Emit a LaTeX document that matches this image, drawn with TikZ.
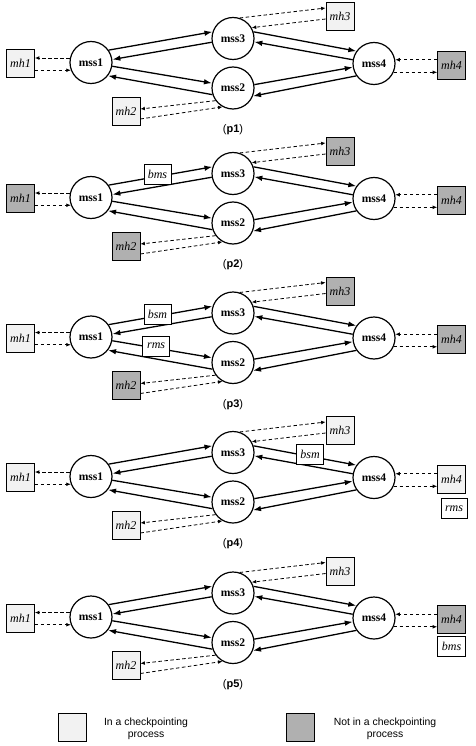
\documentclass[tikz,border=0pt]{standalone}
\usepackage{fontspec}
\setmainfont{Liberation Serif}
\setsansfont{Liberation Sans}
\usetikzlibrary{arrows.meta,positioning,calc}
\definecolor{lightbox}{HTML}{F2F2F2}
\definecolor{darkbox}{HTML}{B0B0B0}
\tikzset{
 mss/.style={circle,draw,line width=1.2pt,minimum size=42pt,inner sep=0pt,font=\fontsize{11.6}{12}\selectfont\bfseries},
 mhbox/.style={draw,line width=0.7pt,minimum size=28pt,inner sep=0pt,font=\fontsize{12}{12}\selectfont\itshape},
 msg/.style={draw,fill=white,line width=0.7pt,minimum width=27pt,minimum height=20pt,inner sep=0pt,font=\fontsize{12}{12}\selectfont\itshape},
 solidarr/.style={line width=1.3pt,-{Latex[length=8pt,width=5.5pt]}},
 dasharr/.style={dash pattern=on 3.5pt off 2.5pt,line width=0.8pt,-{Latex[length=4.5pt,width=3.8pt]}},
 captext/.style={font=\sffamily\fontsize{11}{13}\selectfont},
 legtext/.style={align=center,font=\sffamily\fontsize{10.4}{12}\selectfont}
}
\newcommand{\mypanel}[7]{%
\begin{scope}[yshift=-#2pt]
 \node[mss] (#1m1) at (91,62.5) {mss1};
 \node[mss] (#1m3) at (233,38.5) {mss3};
 \node[mss] (#1m2) at (233,88) {mss2};
 \node[mss] (#1m4) at (374,63.5) {mss4};
 \node[mhbox,fill=#3] (#1h1) at (20.5,63.5) {mh1};
 \node[mhbox,fill=#4] (#1h2) at (126,111) {mh2};
 \node[mhbox,fill=#5] (#1h3) at (340,16.5) {mh3};
 \node[mhbox,fill=#6] (#1h4) at (451.5,65) {mh4};
 \node[captext] (#1cap) at (233,130) {(\textbf{#7})};
 \draw[solidarr] (#1m1.35) -- (#1m3.162);
 \draw[solidarr] (#1m3.190) -- (#1m1.8);
 \draw[solidarr] (#1m1.-10) -- (#1m2.167);
 \draw[solidarr] (#1m2.198) -- (#1m1.-38);
 \draw[solidarr] (#1m3.18) -- (#1m4.145);
 \draw[solidarr] (#1m4.170) -- (#1m3.-9);
 \draw[solidarr] (#1m2.9) -- (#1m4.190);
 \draw[solidarr] (#1m4.215) -- (#1m2.-22);
 \draw[dasharr] (#1m1.168) -- (#1m1.168 -| #1h1.east);
 \draw[dasharr] (#1m1.201 -| #1h1.east) -- (#1m1.201);
 \draw[dasharr] (#1m2.216) -- ([yshift=2pt]#1h2.east);
 \draw[dasharr] ([yshift=-8pt]#1h2.east) -- (#1m2.241);
 \draw[dasharr] (#1m3.72) -- ([yshift=8.5pt]#1h3.west);
 \draw[dasharr] ([yshift=-2.5pt]#1h3.west) -- (#1m3.30);
 \draw[dasharr] (#1m4.10 -| #1h4.west) -- (#1m4.10);
 \draw[dasharr] (#1m4.-24) -- (#1m4.-24 -| #1h4.west);
\end{scope}}
\begin{document}
\begin{tikzpicture}[x=1pt,y=-1pt]
\useasboundingbox (0,0) rectangle (475,746);
\mypanel{a}{0}{lightbox}{lightbox}{lightbox}{darkbox}{p1}
\mypanel{b}{135}{darkbox}{darkbox}{darkbox}{darkbox}{p2}
\mypanel{c}{274.5}{lightbox}{darkbox}{darkbox}{darkbox}{p3}
\mypanel{d}{414}{lightbox}{lightbox}{lightbox}{lightbox}{p4}
\mypanel{e}{554.5}{lightbox}{lightbox}{lightbox}{darkbox}{p5}
% message labels
\node[msg,yshift=2pt] (bl1) at ($(bm1.35)!0.47!(bm3.162)$) {bms};
\node[msg,yshift=2pt] (cl1) at ($(cm1.35)!0.47!(cm3.162)$) {bsm};
\node[msg,yshift=2pt] (cl2) at ($(cm1.-10)!0.44!(cm2.167)$) {rms};
\node[msg,yshift=2pt] (dl1) at ($(dm3.18)!0.55!(dm4.145)$) {bsm};
\node[msg,minimum width=26pt,below=5pt of dh4,xshift=2.5pt] (dl2) {rms};
\node[msg,minimum width=28pt,below=2.5pt of eh4] (el1) {bms};
% legend
\node[mhbox,fill=lightbox] (lg1) at (72.5,727.5) {};
\node[legtext] (lt1) at (146,729) {In a checkpointing\\process};
\node[mhbox,fill=darkbox] (lg2) at (300,727.5) {};
\node[legtext] (lt2) at (385,729) {Not in a checkpointing\\process};
\end{tikzpicture}
\end{document}
